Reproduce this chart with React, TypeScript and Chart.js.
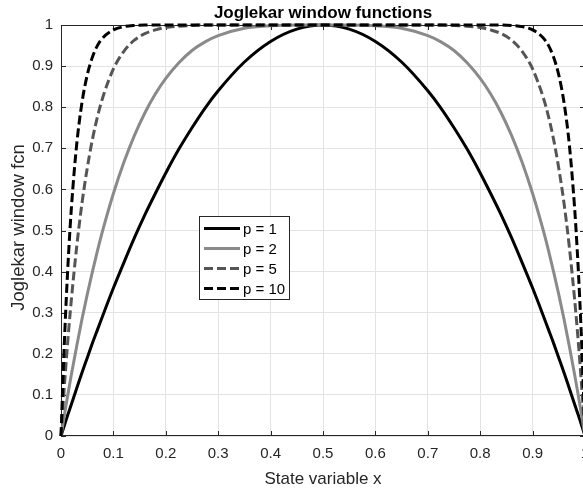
import React, { useEffect, useRef } from "react";
import { Chart, registerables } from "chart.js";

Chart.register(...registerables);

// State variable sample positions (denser near the edges where curves are steep)
const xValues = [
  0, 0.005, 0.01, 0.015, 0.02, 0.03, 0.04, 0.05, 0.06, 0.07, 0.08, 0.1, 0.12, 0.14, 0.16, 0.18, 0.2,
  0.225, 0.25, 0.275, 0.3, 0.35, 0.4, 0.45, 0.5, 0.55, 0.6, 0.65, 0.7, 0.725, 0.75, 0.775, 0.8, 0.82,
  0.84, 0.86, 0.88, 0.9, 0.92, 0.93, 0.94, 0.95, 0.96, 0.97, 0.98, 0.985, 0.99, 0.995, 1,
];

const windowP1 = [
  0, 0.02, 0.04, 0.059, 0.078, 0.116, 0.154, 0.19, 0.226, 0.26, 0.294, 0.36, 0.422, 0.482, 0.538, 0.59,
  0.64, 0.698, 0.75, 0.798, 0.84, 0.91, 0.96, 0.99, 1, 0.99, 0.96, 0.91, 0.84, 0.798, 0.75, 0.698, 0.64,
  0.59, 0.538, 0.482, 0.422, 0.36, 0.294, 0.26, 0.226, 0.19, 0.154, 0.116, 0.078, 0.059, 0.04, 0.02, 0,
];

const windowP2 = [
  0, 0.039, 0.078, 0.115, 0.151, 0.219, 0.284, 0.344, 0.4, 0.453, 0.502, 0.59, 0.666, 0.731, 0.786,
  0.832, 0.87, 0.908, 0.938, 0.959, 0.974, 0.992, 0.998, 1, 1, 1, 0.998, 0.992, 0.974, 0.959, 0.938,
  0.908, 0.87, 0.832, 0.786, 0.731, 0.666, 0.59, 0.502, 0.453, 0.4, 0.344, 0.284, 0.219, 0.151, 0.115,
  0.078, 0.039, 0,
];

const windowP5 = [
  0, 0.096, 0.183, 0.263, 0.335, 0.461, 0.566, 0.651, 0.722, 0.779, 0.825, 0.893, 0.936, 0.963, 0.979,
  0.988, 0.994, 0.997, 0.999, 1, 1, 1, 1, 1, 1, 1, 1, 1, 1, 1, 0.999, 0.997, 0.994, 0.988, 0.979, 0.963,
  0.936, 0.893, 0.825, 0.779, 0.722, 0.651, 0.566, 0.461, 0.335, 0.263, 0.183, 0.096, 0,
];

const windowP10 = [
  0, 0.182, 0.332, 0.456, 0.558, 0.71, 0.811, 0.878, 0.922, 0.951, 0.969, 0.988, 0.996, 0.999, 1, 1, 1,
  1, 1, 1, 1, 1, 1, 1, 1, 1, 1, 1, 1, 1, 1, 1, 1, 1, 1, 0.999, 0.996, 0.988, 0.969, 0.951, 0.922, 0.878,
  0.811, 0.71, 0.558, 0.456, 0.332, 0.182, 0,
];

const seriesLabels = ["p = 1", "p = 2", "p = 5", "p = 10"];

const xTicks = [0, 0.1, 0.2, 0.3, 0.4, 0.5, 0.6, 0.7, 0.8, 0.9, 1];
const xTickLabels = ["0", "0.1", "0.2", "0.3", "0.4", "0.5", "0.6", "0.7", "0.8", "0.9", "1"];
const yTicks = [0, 0.1, 0.2, 0.3, 0.4, 0.5, 0.6, 0.7, 0.8, 0.9, 1];
const yTickLabels = ["0", "0.1", "0.2", "0.3", "0.4", "0.5", "0.6", "0.7", "0.8", "0.9", "1"];

const titleText = "Joglekar window functions";
const xTitle = "State variable x";
const yTitle = "Joglekar window fcn";

const FONT = "'Liberation Sans', Arial, Helvetica, sans-serif";
const AXIS_COLOR = "#262626";

// Axes box with inward tick marks, MATLAB style
const framePlugin = {
  id: "frame",
  beforeDatasetsDraw(chart: any) {
    const { ctx, chartArea: a, scales } = chart;
    ctx.save();
    ctx.strokeStyle = AXIS_COLOR;
    ctx.lineWidth = 1;
    ctx.beginPath();
    ctx.rect(a.left + 0.5, a.top + 0.5, a.right - a.left - 1, a.bottom - a.top - 1);
    ctx.stroke();
    const len = 5;
    ctx.beginPath();
    xTicks.forEach((v) => {
      const px = Math.round(scales.x.getPixelForValue(v)) + 0.5;
      ctx.moveTo(px, a.bottom);
      ctx.lineTo(px, a.bottom - len);
      ctx.moveTo(px, a.top);
      ctx.lineTo(px, a.top + len);
    });
    yTicks.forEach((v) => {
      const py = Math.round(scales.y.getPixelForValue(v)) + 0.5;
      ctx.moveTo(a.left, py);
      ctx.lineTo(a.left + len, py);
      ctx.moveTo(a.right, py);
      ctx.lineTo(a.right - len, py);
    });
    ctx.stroke();
    ctx.restore();
  },
  afterDraw(chart: any) {
    const { ctx, chartArea: a } = chart;
    const cx = (a.left + a.right) / 2;
    const cy = (a.top + a.bottom) / 2;
    ctx.save();
    // title
    ctx.fillStyle = "#000";
    ctx.textAlign = "center";
    ctx.textBaseline = "alphabetic";
    ctx.font = `bold 17px ${FONT}`;
    ctx.fillText(titleText, cx, 18);
    // axis titles
    ctx.fillStyle = AXIS_COLOR;
    ctx.font = `17px ${FONT}`;
    ctx.fillText(xTitle, cx, 484);
    ctx.save();
    ctx.translate(24, cy - 3);
    ctx.rotate(-Math.PI / 2);
    ctx.font = `18.5px ${FONT}`;
    ctx.fillText(yTitle, 0, 0);
    ctx.restore();

    // legend
    const bx = 199.5, by = 216.5, bw = 90, bh = 83;
    ctx.fillStyle = "#fff";
    ctx.fillRect(bx, by, bw, bh);
    ctx.strokeStyle = AXIS_COLOR;
    ctx.lineWidth = 1;
    ctx.strokeRect(bx, by, bw, bh);
    ctx.font = `15px ${FONT}`;
    ctx.textAlign = "left";
    ctx.textBaseline = "middle";
    chart.data.datasets.forEach((ds: any, i: number) => {
      const y = 228.5 + i * 20;
      ctx.save();
      ctx.strokeStyle = ds.borderColor;
      ctx.lineWidth = ds.borderWidth;
      ctx.setLineDash(ds.borderDash || []);
      ctx.beginPath();
      ctx.moveTo(204, y);
      ctx.lineTo(240, y);
      ctx.stroke();
      ctx.restore();
      ctx.fillStyle = "#000";
      ctx.fillText(ds.label, 243, y + 1);
    });
    ctx.restore();
  },
};

export default function App() {
  const canvasRef = useRef<HTMLCanvasElement | null>(null);

  useEffect(() => {
    const canvas = canvasRef.current;
    if (!canvas) return;
    const series = [windowP1, windowP2, windowP5, windowP10];
    const colors = ["#000000", "#8a8a8a", "#555555", "#000000"];
    const dashes = [[], [], [9, 4], [9, 4]];
    const chart = new Chart(canvas, {
      type: "line",
      data: {
        datasets: series.map((ys, i) => ({
          label: seriesLabels[i],
          data: xValues.map((x, j) => ({ x, y: ys[j] })),
          borderColor: colors[i],
          backgroundColor: colors[i],
          borderWidth: 3,
          borderDash: dashes[i],
          pointRadius: 0,
          cubicInterpolationMode: "monotone" as const,
          fill: false,
          clip: 4,
          order: 4 - i,
        })),
      },
      options: {
        responsive: false,
        animation: false,
        devicePixelRatio: 1,
        layout: { padding: { top: 25, right: 15, left: 0, bottom: 0 } },
        plugins: {
          legend: { display: false },
          title: { display: false },
          tooltip: { enabled: false },
        },
        scales: {
          x: {
            type: "linear",
            min: 0,
            max: 1,
            afterFit: (s: any) => {
              s.height = 54;
            },
            afterBuildTicks: (s: any) => {
              s.ticks = xTicks.map((v) => ({ value: v }));
            },
            ticks: {
              padding: 9,
              color: AXIS_COLOR,
              font: { family: FONT, size: 15 },
              maxRotation: 0,
              autoSkip: false,
              callback: (v: any) => xTickLabels[xTicks.indexOf(Number(v))] ?? "",
            },
            grid: { color: "#e3e3e3", drawTicks: false },
            border: { display: false },
          },
          y: {
            type: "linear",
            min: 0,
            max: 1,
            afterFit: (s: any) => {
              s.width = 61;
            },
            afterBuildTicks: (s: any) => {
              s.ticks = yTicks.map((v) => ({ value: v }));
            },
            ticks: {
              padding: 8,
              color: AXIS_COLOR,
              font: { family: FONT, size: 15 },
              autoSkip: false,
              callback: (v: any) => yTickLabels[yTicks.indexOf(Number(v))] ?? "",
            },
            grid: { color: "#e3e3e3", drawTicks: false },
            border: { display: false },
          },
        },
      },
      plugins: [framePlugin],
    });
    return () => chart.destroy();
  }, []);

  return (
    <div
      style={{
        position: "fixed",
        left: 0,
        top: 0,
        width: 583,
        height: 490,
        overflow: "hidden",
        background: "#fff",
      }}
    >
      <canvas ref={canvasRef} width={600} height={490} style={{ display: "block" }} />
    </div>
  );
}
